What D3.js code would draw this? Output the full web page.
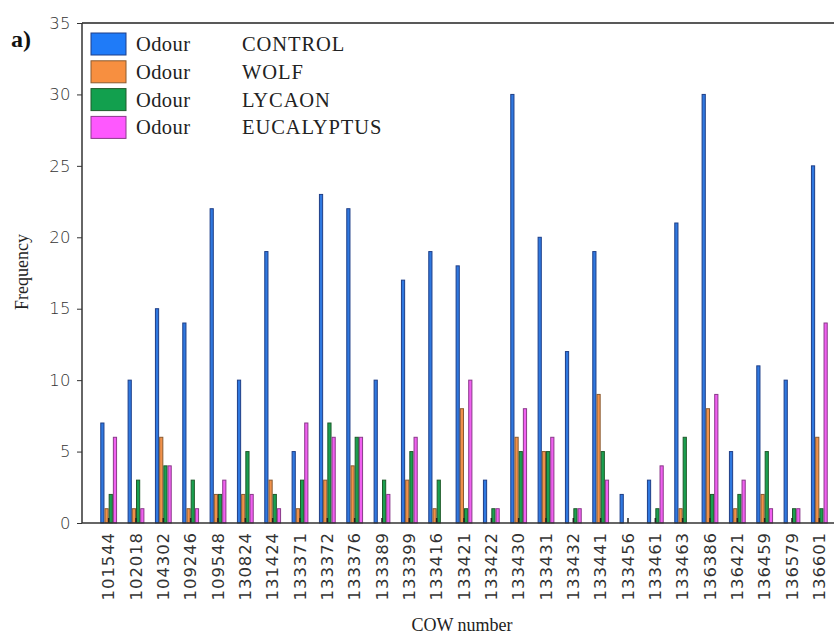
<!DOCTYPE html>
<html><head><meta charset="utf-8">
<script src="https://cdn.jsdelivr.net/npm/d3@7"></script>
<style>body{margin:0;background:#fff}svg{display:block}</style>
</head><body><svg id="c" width="834" height="634"></svg>
<script>
const cows = ["101544","102018","104302","109246","109548","130824","131424","133371","133372","133376","133389","133399","133416","133421","133422","133430","133431","133432","133441","133456","133461","133463","136386","136421","136459","136579","136601"];
const control    = [7,10,15,14,22,10,19,5,23,22,10,17,19,18,3,30,20,12,19,2,3,21,30,5,11,10,25];
const wolf       = [1,1,6,1,2,2,3,1,3,4,0,3,1,8,0,6,5,0,9,0,0,1,8,1,2,0,6];
const lycaon     = [2,3,4,3,2,5,2,3,7,6,3,5,3,1,1,5,5,1,5,0,1,6,2,2,5,1,1];
const eucalyptus = [6,1,4,1,3,2,1,7,6,6,2,6,0,10,1,8,6,1,3,0,4,0,9,3,1,1,14];
const seriesNames = ["CONTROL","WOLF","LYCAON","EUCALYPTUS"];
const yTicks = [0,5,10,15,20,25,30,35];

const series = [control, wolf, lycaon, eucalyptus];
const fills = ["#2f78e0","#f0914a","#1aa050","#f060f0"];
const strokes = ["#1f3f88","#8a5a30","#1f5a2a","#8a3a8a"];
const legendFills = ["#1f7bf8","#f78f40","#12a04e","#fe58fe"];

const svg = d3.select("#c");
const L = 82, R = 834, T = 23, B = 523;
const y = d3.scaleLinear().domain([0,35]).range([B,T]);
const x = d3.scaleBand().domain(cows).range([95, 833]);
const bw = 4.2;
const inner = d3.scaleBand().domain(d3.range(4)).range([-2*bw, 2*bw]);

// bars
series.forEach((vals, si) => {
  svg.append("g").selectAll("rect").data(cows).join("rect")
    .attr("x", (c) => x(c) + x.bandwidth()/2 + inner(si) + 0.5)
    .attr("y", (c, i) => y(vals[i]))
    .attr("width", bw - 1)
    .attr("height", (c, i) => B - y(vals[i]))
    .attr("fill", fills[si])
    .attr("stroke", vals.some(v=>v>0) ? strokes[si] : "none")
    .attr("stroke-width", 1)
    .attr("display", (c, i) => vals[i] > 0 ? null : "none");
});

// x ticks inward
svg.append("g").selectAll("line").data(cows).join("line")
  .attr("x1", c => x(c) + x.bandwidth()/2).attr("x2", c => x(c) + x.bandwidth()/2)
  .attr("y1", B).attr("y2", B - 5).attr("stroke", "#222").attr("stroke-width", 1.5);

// frame
svg.append("line").attr("x1", L).attr("x2", R).attr("y1", T).attr("y2", T).attr("stroke", "#222").attr("stroke-width", 1.5);
svg.append("line").attr("x1", L).attr("x2", R).attr("y1", B).attr("y2", B).attr("stroke", "#333").attr("stroke-width", 1.5);
svg.append("line").attr("x1", L).attr("x2", L).attr("y1", T).attr("y2", B).attr("stroke", "#333").attr("stroke-width", 1.5);

// y axis
const yAxis = d3.axisLeft(y).tickValues(yTicks).tickSize(5).tickPadding(6);
const gy = svg.append("g").attr("transform", `translate(${L},0)`).call(yAxis);
gy.select(".domain").remove();
gy.selectAll("line").attr("stroke", "#333");
gy.selectAll("text").attr("font-family", "DejaVu Sans").attr("font-size", 16.5)
  .attr("fill", "#333").attr("letter-spacing", 0.4).attr("font-weight", 300);

// x labels
const gx = svg.append("g");
gx.selectAll("text").data(cows).join("text")
  .attr("transform", c => `translate(${x(c) + x.bandwidth()/2 + 5.5},532) rotate(-90)`)
  .attr("text-anchor", "end")
  .attr("font-family", "DejaVu Sans").attr("font-size", 16.5).attr("letter-spacing", 0.9)
  .attr("fill", "#333")
  .text(c => c);

// axis titles
svg.append("text").attr("transform", "translate(28,272) rotate(-90)").attr("text-anchor", "middle")
  .attr("font-family", "Liberation Serif").attr("font-size", 18).attr("fill", "#222").text("Frequency");
svg.append("text").attr("x", 462).attr("y", 631).attr("text-anchor", "middle")
  .attr("font-family", "Liberation Serif").attr("font-size", 18).attr("fill", "#222").text("COW number");
svg.append("text").attr("x", 11).attr("y", 47)
  .attr("font-family", "Liberation Serif").attr("font-size", 24).attr("font-weight", "bold").attr("fill", "#111").text("a)");

// legend
const lg = svg.append("g").selectAll("g").data(seriesNames).join("g")
  .attr("transform", (d, i) => `translate(91,${33 + i * 27.8})`);
lg.append("rect").attr("width", 35).attr("height", 22).attr("fill", (d, i) => legendFills[i])
  .attr("stroke", (d, i) => strokes[i]).attr("stroke-width", 1);
lg.append("text").attr("x", 45).attr("y", 18).attr("font-family", "Liberation Serif").attr("font-size", 20.5)
  .attr("letter-spacing", 0.4).attr("fill", "#222").text("Odour");
lg.append("text").attr("x", 151).attr("y", 18).attr("font-family", "Liberation Serif").attr("font-size", 20.5)
  .attr("letter-spacing", 0.9).attr("fill", "#222").text(d => d);
</script></body></html>
